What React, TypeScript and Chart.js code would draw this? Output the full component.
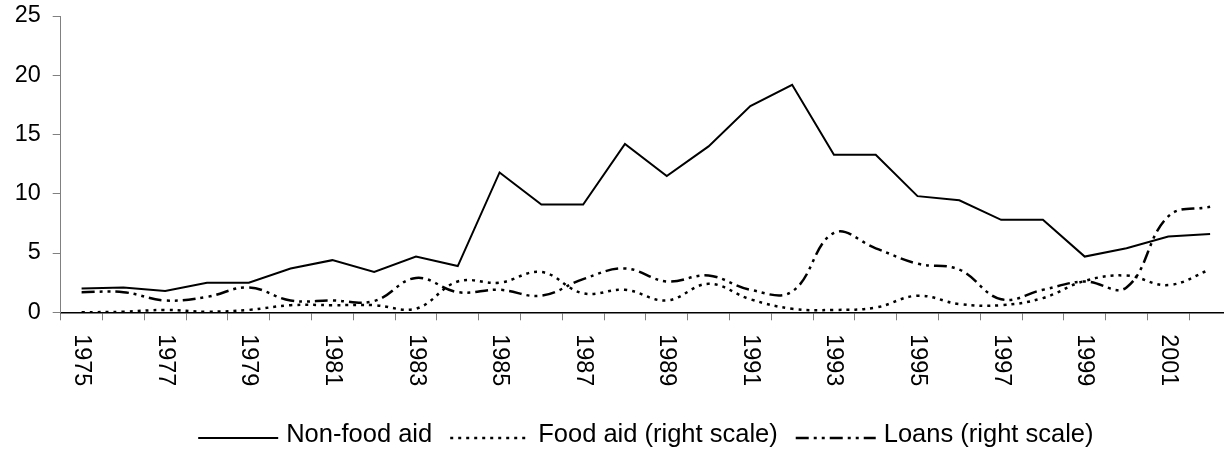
import React, { useEffect, useRef } from "react";
import { Chart, registerables } from "chart.js";

Chart.register(...registerables);

const years = [
  "1975", "1976", "1977", "1978", "1979", "1980", "1981", "1982", "1983", "1984",
  "1985", "1986", "1987", "1988", "1989", "1990", "1991", "1992", "1993", "1994",
  "1995", "1996", "1997", "1998", "1999", "2000", "2001", "2002",
];

const nonFoodAid = [
  2.0, 2.1, 1.8, 2.5, 2.5, 3.7, 4.4, 3.4, 4.7, 3.9,
  11.8, 9.1, 9.1, 14.2, 11.5, 14.0, 17.4, 19.2, 13.3, 13.3,
  9.8, 9.45, 7.8, 7.8, 4.7, 5.4, 6.4, 6.6,
];

const foodAid = [
  0, 0.05, 0.2, 0.05, 0.2, 0.6, 0.6, 0.6, 0.3, 2.6,
  2.5, 3.4, 1.6, 1.9, 1.0, 2.4, 1.1, 0.3, 0.2, 0.4,
  1.4, 0.7, 0.6, 1.2, 2.65, 3.1, 2.3, 3.6,
];

const loans = [
  1.7, 1.7, 1.0, 1.3, 2.1, 1.0, 1.0, 0.95, 2.9, 1.7,
  1.9, 1.4, 2.8, 3.7, 2.6, 3.1, 1.9, 1.75, 6.7, 5.4,
  4.1, 3.6, 1.1, 1.9, 2.6, 2.1, 8.1, 8.9,
];

const seriesNames = ["Non-food aid", "Food aid (right scale)", "Loans (right scale)"];
const yTicks = [0, 5, 10, 15, 20, 25];

const FONT = '"Liberation Sans", Arial, sans-serif';
const FOOD_DASH = [3, 5];
const LOAN_DASH = [13, 5, 3, 5, 3, 5];

const customDraw = {
  id: "customDraw",
  afterDraw(chart: any) {
    const ctx = chart.ctx;
    const xs = chart.scales.x;
    const area = chart.chartArea;
    ctx.save();
    // rotated x labels (clockwise), every other year
    ctx.fillStyle = "#000";
    ctx.font = `23.4px ${FONT}`;
    ctx.textAlign = "left";
    ctx.textBaseline = "middle";
    years.forEach((y, i) => {
      if (i % 2 !== 0) return;
      const px = xs.getPixelForValue(i);
      ctx.save();
      ctx.translate(px, area.bottom + 22);
      ctx.rotate(Math.PI / 2);
      ctx.fillText(y, 0, 0);
      ctx.restore();
    });

    // legend
    ctx.font = `25.5px ${FONT}`;
    const sampleLen = 80;
    const gapText = 8;
    const gapItem = 18;
    const widths = seriesNames.map((n) => ctx.measureText(n).width);
    const total =
      widths.reduce((a, b) => a + b, 0) + 3 * (sampleLen + gapText) + 2 * gapItem;
    let x = (area.left + area.right) / 2 - total / 2;
    const lineY = 438;
    const textY = 442;
    const dashes = [[], FOOD_DASH, LOAN_DASH];
    const lws = [2, 2.5, 2.5];
    seriesNames.forEach((n, i) => {
      ctx.beginPath();
      ctx.strokeStyle = "#000";
      ctx.lineWidth = lws[i];
      ctx.setLineDash(dashes[i]);
      ctx.moveTo(x, lineY);
      ctx.lineTo(x + sampleLen, lineY);
      ctx.stroke();
      ctx.setLineDash([]);
      x += sampleLen + gapText;
      ctx.textBaseline = "alphabetic";
      ctx.fillStyle = "#000";
      ctx.fillText(n, x, textY);
      x += widths[i] + gapItem;
    });
    ctx.restore();
  },
};

export default function App() {
  const ref = useRef<HTMLCanvasElement>(null);

  useEffect(() => {
    if (!ref.current) return;
    const chart = new Chart(ref.current, {
      type: "line",
      data: {
        labels: years,
        datasets: [
          {
            label: seriesNames[0],
            data: nonFoodAid,
            borderColor: "#000",
            borderWidth: 2,
            pointRadius: 0,
            tension: 0,
            fill: false,
          },
          {
            label: seriesNames[1],
            data: foodAid,
            borderColor: "#000",
            borderWidth: 2.5,
            borderDash: FOOD_DASH,
            pointRadius: 0,
            tension: 0.4,
            fill: false,
          },
          {
            label: seriesNames[2],
            data: loans,
            borderColor: "#000",
            borderWidth: 2.5,
            borderDash: LOAN_DASH,
            pointRadius: 0,
            tension: 0.4,
            fill: false,
          },
        ],
      },
      options: {
        responsive: false,
        animation: false,
        devicePixelRatio: 1,
        layout: { padding: { top: 16, right: 9, left: 0, bottom: 0 } },
        plugins: {
          legend: { display: false },
          tooltip: { enabled: false },
        },
        scales: {
          x: {
            type: "category",
            offset: true,
            grid: {
              offset: true,
              drawOnChartArea: false,
              drawTicks: true,
              tickLength: 8,
              color: "#808080",
              lineWidth: 1,
            },
            border: { display: true, color: "#000", width: 1.5 },
            ticks: { display: false },
            afterFit: (s: any) => {
              s.height = 142.7;
              s.paddingLeft = 0;
              s.paddingRight = 0;
            },
          },
          y: {
            min: 0,
            max: 25,
            afterBuildTicks: (s: any) => {
              s.ticks = yTicks.map((v) => ({ value: v }));
            },
            grid: {
              drawOnChartArea: false,
              drawTicks: true,
              tickLength: 8,
              color: "#808080",
              lineWidth: 1,
            },
            border: { display: true, color: "#808080", width: 1 },
            ticks: {
              color: "#000",
              font: { family: FONT, size: 23.4 },
              padding: 12,
            },
            afterFit: (s: any) => {
              s.width = 60.7;
              s.paddingTop = 0;
              s.paddingBottom = 0;
            },
          },
        },
      },
      plugins: [customDraw],
    });
    return () => chart.destroy();
  }, []);

  return (
    <div
      style={{
        position: "fixed",
        left: 0,
        top: 0,
        width: 1240,
        height: 455,
        background: "#fff",
      }}
    >
      <canvas ref={ref} width={1240} height={455} />
    </div>
  );
}
